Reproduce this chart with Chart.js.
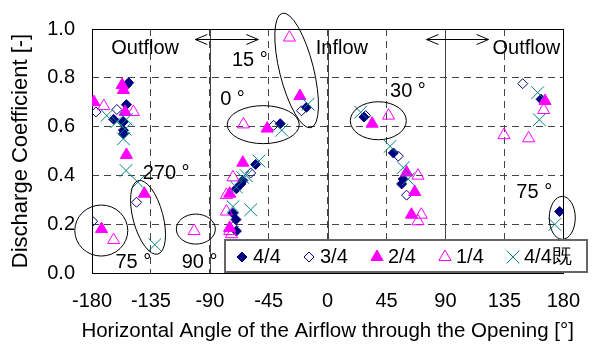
<!DOCTYPE html>
<html>
<head>
<meta charset="utf-8">
<script src="https://cdn.jsdelivr.net/npm/chart.js@4.4.1/dist/chart.umd.min.js"></script>
<style>
  html, body { margin: 0; padding: 0; background: #fff; }
  #chart { display: block; }
</style>
</head>
<body>
<canvas id="chart" width="596" height="345"></canvas>
<script>
// axis ticks
const xTicks = [-180, -135, -90, -45, 0, 45, 90, 135, 180];
const yTicks = [0, 0.2, 0.4, 0.6, 0.8, 1.0];
const seriesNames = ["4/4", "3/4", "2/4", "1/4", "4/4既"];

// [angle, discharge coefficient]
const full44 = [
  [-152, 0.78], [-153.7, 0.69], [-163.5, 0.63], [-156, 0.62], [-156, 0.585], [-156, 0.57],
  [-55, 0.445], [-64.8, 0.379], [-66.3, 0.365], [-69.7, 0.345], [-72.3, 0.245], [-70, 0.219], [-69.7, 0.172],
  [-36.2, 0.612], [-16.2, 0.679], [27.7, 0.639], [50.2, 0.492], [57.7, 0.385], [56.5, 0.365],
  [163, 0.712], [177.2, 0.252]
];
const open34 = [
  [-153.5, 0.77], [-177, 0.66], [-161, 0.67], [-179.5, 0.212], [-146, 0.29],
  [-58.8, 0.41], [-72.3, 0.19], [-41.2, 0.605], [-20, 0.665], [29, 0.645],
  [54, 0.479], [60.3, 0.319], [149, 0.776]
];
const half24 = [
  [-157, 0.77], [-156, 0.75], [-178.5, 0.70], [-154.7, 0.66], [-153.7, 0.484], [-140, 0.325], [-172.7, 0.18],
  [-64.8, 0.452], [-74.8, 0.325], [-74.8, 0.185], [-46.2, 0.592], [-21.2, 0.725],
  [34, 0.612], [60.3, 0.412], [66.5, 0.332], [64, 0.239], [166, 0.705]
];
const quarter14 = [
  [-171, 0.684], [-148.4, 0.66], [-163.5, 0.135], [-102, 0.172],
  [-72.3, 0.392], [-77.3, 0.32], [-77.3, 0.252], [-74.8, 0.172], [-73.5, 0.159],
  [-64.3, 0.609], [-29.2, 0.965], [46.5, 0.645], [69, 0.399], [71.5, 0.239], [69, 0.212],
  [165, 0.668], [134.7, 0.565], [153.5, 0.552]
];
const full44k = [
  [-168.7, 0.645], [-161, 0.62], [-154.7, 0.59], [-156, 0.55], [-153.7, 0.63], [-154, 0.42], [-145, 0.372], [-132, 0.116],
  [-52.5, 0.459], [-65, 0.392], [-62.2, 0.399], [-69.7, 0.352], [-72.3, 0.272], [-58.8, 0.259],
  [-35, 0.585], [-14.9, 0.692], [25.2, 0.659], [47.7, 0.519], [57.7, 0.432], [61.5, 0.385],
  [160.4, 0.739], [161.7, 0.628], [173.5, 0.199]
];

const FONT = '"Liberation Sans", Arial, sans-serif';
const NAVY = "#000080", MAGENTA = "#ff00ff", TEAL = "#008080";
const styles = [
  { style: "rectRot", r: 5, color: NAVY, fill: true },
  { style: "rectRot", r: 5, color: NAVY, fill: false },
  { style: "triangle", r: 7, color: MAGENTA, fill: true },
  { style: "triangle", r: 7, color: MAGENTA, fill: false },
  { style: "crossRot", r: 9, color: TEAL, fill: false }
];
const allSeries = [full44, open34, half24, quarter14, full44k];

const datasets = allSeries.map((pts, i) => ({
  label: seriesNames[i],
  data: pts.map(p => ({ x: p[0], y: p[1] })),
  showLine: false,
  pointStyle: styles[i].style,
  pointRadius: styles[i].r,
  pointHoverRadius: styles[i].r,
  pointBorderWidth: 1,
  pointBorderColor: styles[i].color,
  pointBackgroundColor: styles[i].fill ? styles[i].color : "rgba(0,0,0,0)",
  order: allSeries.length - i
}));

// annotations (data coordinates)
const notes = [
  { t: "Outflow", x: -139.4, y: 0.92 }, { t: "Inflow", x: 10.9, y: 0.92 }, { t: "Outflow", x: 151.8, y: 0.92 },
  { t: "15 °", x: -59.4, y: 0.872 }, { t: "0 °", x: -72.7, y: 0.712 }, { t: "30 °", x: 61.3, y: 0.744 },
  { t: "270 °", x: -123.4, y: 0.409 }, { t: "75 °", x: -148.4, y: 0.045 }, { t: "90 °", x: -97.8, y: 0.045 },
  { t: "75 °", x: 157.8, y: 0.332 }
];
// ellipses: center in data units, radii in px, rotation in radians
const rings = [
  { x: -172.9, y: 0.174, rx: 26.5, ry: 25.5, rot: 0 },
  { x: -137.2, y: 0.228, rx: 15, ry: 38, rot: -0.26 },
  { x: -100.7, y: 0.18, rx: 19.5, ry: 15, rot: 0 },
  { x: -49.2, y: 0.608, rx: 36, ry: 19, rot: 0 },
  { x: -23.7, y: 0.83, rx: 17, ry: 59, rot: -0.245 },
  { x: 38.7, y: 0.624, rx: 28, ry: 19, rot: 0 },
  { x: 179.2, y: 0.226, rx: 13, ry: 21.5, rot: 0 }
];
const arrows = [
  { x1: -101.1, x2: -53, y: 0.96 },
  { x1: 75.5, x2: 122.9, y: 0.96 }
];

function marker(ctx, s, x, y) {
  ctx.save();
  ctx.lineWidth = 1;
  ctx.strokeStyle = s.color;
  ctx.fillStyle = s.color;
  ctx.beginPath();
  if (s.style === "rectRot") {
    ctx.moveTo(x, y - s.r); ctx.lineTo(x + s.r, y); ctx.lineTo(x, y + s.r); ctx.lineTo(x - s.r, y);
    ctx.closePath();
  } else if (s.style === "triangle") {
    for (let k = 0; k < 3; k++) {
      const a = k * 2 * Math.PI / 3;
      const px = x + Math.sin(a) * s.r, py = y - Math.cos(a) * s.r;
      k ? ctx.lineTo(px, py) : ctx.moveTo(px, py);
    }
    ctx.closePath();
  } else {
    const o = s.r * Math.SQRT1_2;
    ctx.moveTo(x - o, y - o); ctx.lineTo(x + o, y + o);
    ctx.moveTo(x + o, y - o); ctx.lineTo(x - o, y + o);
  }
  if (s.fill) ctx.fill();
  ctx.stroke();
  ctx.restore();
}

const decor = {
  id: "decor",
  beforeDatasetsDraw(chart) {
    const { ctx, chartArea: a, scales: { x } } = chart;
    ctx.save();
    ctx.strokeStyle = "#444";
    ctx.lineWidth = 1;
    [-90, 0, 90].forEach(v => {
      const px = Math.round(x.getPixelForValue(v)) + 0.5;
      ctx.beginPath(); ctx.moveTo(px, a.top); ctx.lineTo(px, a.bottom); ctx.stroke();
    });
    ctx.strokeStyle = "#000";
    ctx.strokeRect(Math.round(a.left) + 0.5, Math.round(a.top) + 0.5, Math.round(a.right - a.left), Math.round(a.bottom - a.top));
    ctx.restore();
  },
  afterDatasetsDraw(chart) {
    const { ctx, chartArea: area, scales: { x, y } } = chart;
    ctx.save();
    ctx.strokeStyle = "#000";
    ctx.lineWidth = 1;
    rings.forEach(e => {
      ctx.beginPath();
      ctx.ellipse(x.getPixelForValue(e.x), y.getPixelForValue(e.y), e.rx, e.ry, e.rot, 0, 2 * Math.PI);
      ctx.stroke();
    });
    arrows.forEach(ar => {
      const a = x.getPixelForValue(ar.x1), b = x.getPixelForValue(ar.x2), py = Math.round(y.getPixelForValue(ar.y)) + 0.5;
      ctx.beginPath();
      ctx.moveTo(a, py); ctx.lineTo(b, py);
      ctx.moveTo(a + 12, py - 5); ctx.lineTo(a, py); ctx.lineTo(a + 12, py + 5);
      ctx.moveTo(b - 12, py - 5); ctx.lineTo(b, py); ctx.lineTo(b - 12, py + 5);
      ctx.stroke();
    });
    ctx.fillStyle = "#000";
    ctx.font = "20px " + FONT;
    ctx.textAlign = "center";
    ctx.textBaseline = "middle";
    notes.forEach(n => ctx.fillText(n.t, x.getPixelForValue(n.x), y.getPixelForValue(n.y)));

    // legend box
    const lx = 225, ly = 240, lw = 362, lh = 32;
    ctx.fillStyle = "#fff";
    ctx.fillRect(lx, ly, lw, lh);
    ctx.strokeStyle = "#666";
    ctx.lineWidth = 2;
    ctx.strokeRect(lx, ly, lw, lh);
    const mx = [242, 309, 377, 445, 513];
    ctx.textAlign = "left";
    ctx.fillStyle = "#000";
    styles.forEach((s, i) => {
      marker(ctx, s, mx[i], 257);
      ctx.fillStyle = "#000";
      ctx.fillText(seriesNames[i], mx[i] + 11, 257);
    });

    // axis titles, centred on the plot area
    const cx = (area.left + area.right) / 2, cy = (area.top + area.bottom) / 2;
    ctx.textAlign = "center";
    ctx.font = "20.5px " + FONT;
    ctx.fillText("Horizontal Angle of the Airflow through the Opening [°]", cx, 331);
    ctx.font = "22px " + FONT;
    ctx.translate(21, cy);
    ctx.rotate(-Math.PI / 2);
    ctx.fillText("Discharge Coefficient [-]", 0, 0);
    ctx.restore();
  }
};

new Chart(document.getElementById("chart"), {
  type: "scatter",
  data: { datasets },
  options: {
    responsive: false,
    animation: false,
    devicePixelRatio: 1,
    events: [],
    layout: { padding: { top: 23, right: 25, left: 0, bottom: 0 } },
    plugins: { legend: { display: false }, tooltip: { enabled: false } },
    scales: {
      x: {
        type: "linear", min: -180, max: 180,
        afterBuildTicks: s => { s.ticks = xTicks.map(v => ({ value: v })); },
        afterFit: s => { s.height = 72; },
        ticks: { color: "#000", font: { family: FONT, size: 20 }, padding: 16, maxRotation: 0 },
        grid: { color: "#444", drawTicks: false },
        border: { display: false, dash: [7, 5] }
      },
      y: {
        min: 0, max: 1,
        afterBuildTicks: s => { s.ticks = yTicks.map(v => ({ value: v })); },
        afterFit: s => { s.width = 92; },
        ticks: { color: "#000", font: { family: FONT, size: 20 }, padding: 17, callback: v => v.toFixed(1) },
        grid: { color: "#444", drawTicks: false },
        border: { display: false, dash: [7, 5] }
      }
    }
  },
  plugins: [decor]
});
</script>
</body>
</html>
